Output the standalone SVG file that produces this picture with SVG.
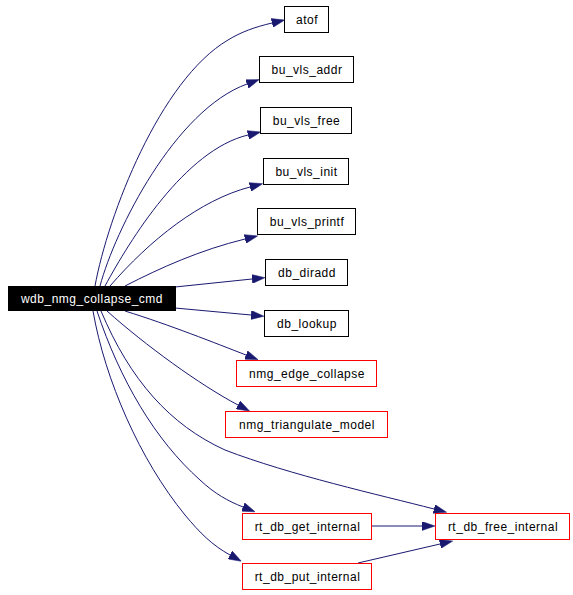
<svg xmlns="http://www.w3.org/2000/svg" width="573" height="595" viewBox="0 0 573 595">
<style>
.n rect{fill:#fff;stroke:#000;stroke-width:1}
.n.r rect{stroke:#f00}
.n text{font-family:"Liberation Sans",Arial,sans-serif;font-size:12px;letter-spacing:0.5px;text-anchor:middle;fill:#000}
.n.root rect{fill:#000;stroke:#000}
.n.root text{fill:#fff}
.e path{fill:none;stroke:#191970;stroke-width:1;marker-end:url(#ah)}
</style>
<defs>
<marker id="ah" markerUnits="userSpaceOnUse" markerWidth="13" markerHeight="9" refX="0" refY="4.5" orient="auto">
<path d="M0,0 L13,4.5 L0,9 z" fill="#191970" stroke="#191970" stroke-width="0.5"/>
</marker>
</defs>
<rect width="573" height="595" fill="#fff"/>
<g id="edges" class="e">
<path d="M95,286 C108,215 160,80 228,40 C241,32 255,27 272,23"/>
<path d="M100,286 C115,230 175,110 247,84"/>
<path d="M105,286 C130,240 185,150 248,135"/>
<path d="M110,286 C150,240 200,200 250,187"/>
<path d="M125,286 C160,268 200,250 245,239"/>
<path d="M175,287 L252,279"/>
<path d="M175,308 L251,315"/>
<path d="M125,311 C170,325 215,343 246,355"/>
<path d="M107,311 C145,345 200,385 238,405"/>
<path d="M101,311 C130,380 170,425 225,450 C290,475 380,495 434,509"/>
<path d="M97,311 C120,380 155,440 200,480 C215,494 228,501 243,507"/>
<path d="M93,311 C105,380 140,460 185,515 C200,533 212,545 230,555"/>
<path d="M371,526 L422,526"/>
<path d="M358,563 L440,544"/>
</g>
<g id="wdb_nmg_collapse_cmd" class="n root"><rect x="8.5" y="286.5" width="167" height="24"/><text x="92" y="302.5">wdb_nmg_collapse_cmd</text></g>
<g id="atof" class="n"><rect x="284.5" y="6.5" width="44" height="26"/><text x="307" y="23.5">atof</text></g>
<g id="bu_vls_addr" class="n"><rect x="259.5" y="56.5" width="94" height="26"/><text x="307" y="73.5">bu_vls_addr</text></g>
<g id="bu_vls_free" class="n"><rect x="260.5" y="107.5" width="91" height="26"/><text x="306.5" y="124.5">bu_vls_free</text></g>
<g id="bu_vls_init" class="n"><rect x="263.5" y="158.5" width="85" height="26"/><text x="306.5" y="175.5">bu_vls_init</text></g>
<g id="bu_vls_printf" class="n"><rect x="257.5" y="208.5" width="98" height="26"/><text x="307" y="225.5">bu_vls_printf</text></g>
<g id="db_diradd" class="n"><rect x="265.5" y="259.5" width="82" height="26"/><text x="307" y="276.5">db_diradd</text></g>
<g id="db_lookup" class="n"><rect x="264.5" y="310.5" width="84" height="26"/><text x="307" y="327.5">db_lookup</text></g>
<g id="nmg_edge_collapse" class="n r"><rect x="236.5" y="360.5" width="140" height="26"/><text x="307" y="377.5">nmg_edge_collapse</text></g>
<g id="nmg_triangulate_model" class="n r"><rect x="225.5" y="411.5" width="162" height="26"/><text x="307" y="428.5">nmg_triangulate_model</text></g>
<g id="rt_db_get_internal" class="n r"><rect x="242.5" y="513.5" width="129" height="26"/><text x="307.5" y="530.5">rt_db_get_internal</text></g>
<g id="rt_db_free_internal" class="n r"><rect x="435.5" y="513.5" width="134" height="26"/><text x="503" y="530.5">rt_db_free_internal</text></g>
<g id="rt_db_put_internal" class="n r"><rect x="242.5" y="563.5" width="129" height="26"/><text x="307.5" y="580.5">rt_db_put_internal</text></g>
</svg>
